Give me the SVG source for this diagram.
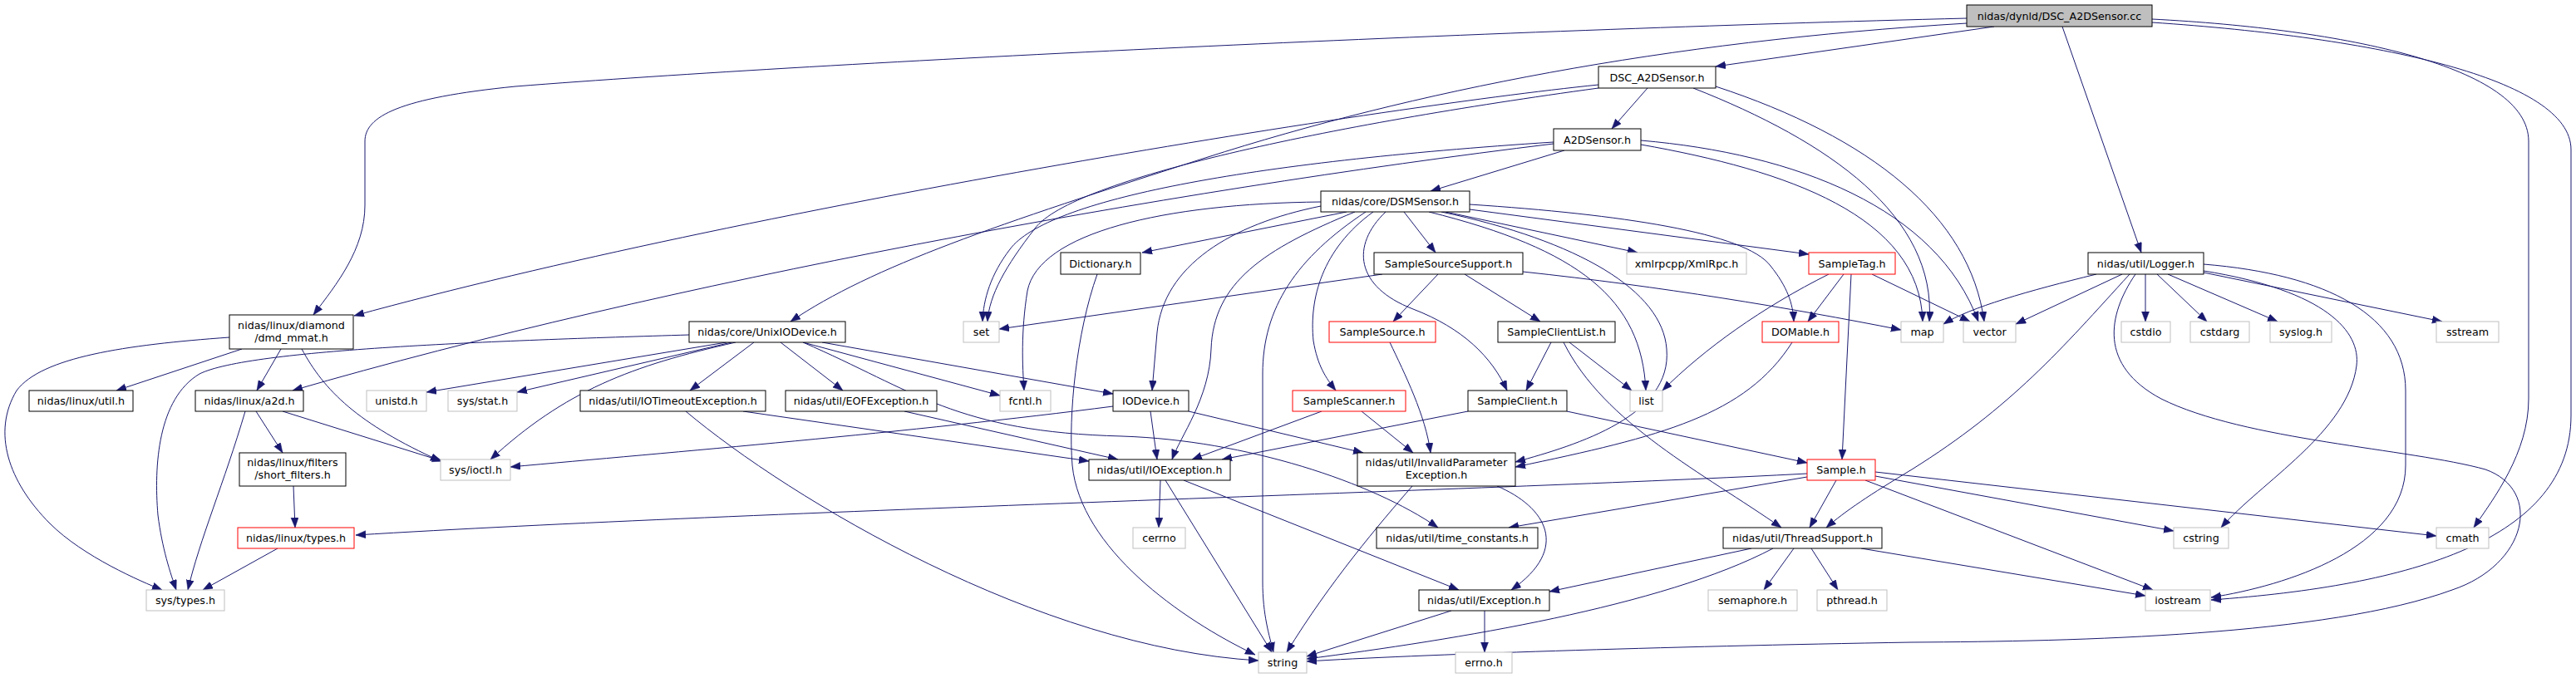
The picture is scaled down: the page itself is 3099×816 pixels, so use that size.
<svg xmlns="http://www.w3.org/2000/svg" width="3099" height="816" viewBox="0 0 3099 816">
<defs>
<style>
rect{fill:#fff;stroke:#000;stroke-width:1}
.g rect{stroke:#bfbfbf}
.r rect{stroke:#ff0000}
.root rect{fill:#bfbfbf}
text{font-family:"DejaVu Sans","Liberation Sans",sans-serif;font-size:12.7px;text-anchor:middle;fill:#000}
#edges path{fill:none;stroke:#191970;stroke-width:1;marker-end:url(#arr)}
</style>
<marker id="arr" markerWidth="13" markerHeight="10" refX="12" refY="4.5" orient="auto" markerUnits="userSpaceOnUse"><path d="M0,0 L12,4.5 L0,9 z" fill="#191970" stroke="#191970" stroke-width="0.5"/></marker>
</defs>
<rect x="0" y="0" width="3099" height="816" style="fill:#fff;stroke:none"/>
<g id="edges">
<path d="M2399,32 L2064,80"/>
<path d="M2481,32 L2576,304"/>
<path d="M2366,22 C1800,36 1000,74 620,104 C480,118 439,140 439,170 L439,247 C439,300 405,342 377,379"/>
<path d="M2366,28 C2000,50 1700,110 1450,190 C1200,270 1050,320 951,387"/>
<path d="M2589,23 C2820,35 3042,80 3042,170 L3042,480 C3042,545 3000,600 2976,635"/>
<path d="M2589,27 C2860,45 3093,95 3093,180 L3093,500 C3093,650 2900,705 2660,722"/>
<path d="M1982,106 L1939,155"/>
<path d="M1923,102 C1650,130 900,250 426,380"/>
<path d="M1923,106 C1600,150 1290,215 1245,275 C1210,320 1190,355 1188,387"/>
<path d="M2037,106 C2200,170 2330,260 2321,387"/>
<path d="M2064,104 C2250,165 2370,260 2387,387"/>
<path d="M1882,181 L1721,230"/>
<path d="M1869,173 C1400,230 800,340 352,470"/>
<path d="M1869,171 C1500,195 1260,240 1215,300 C1192,330 1183,360 1182,387"/>
<path d="M1974,174 C2150,205 2310,260 2313,387"/>
<path d="M1974,169 C2160,185 2330,250 2380,387"/>
<path d="M1689,255 L1727,304"/>
<path d="M1739,255 L1970,304"/>
<path d="M1768,252 L2176,306"/>
<path d="M1768,246 C1950,258 2100,280 2130,320 C2150,345 2157,365 2158,387"/>
<path d="M1719,255 C1900,300 1975,360 1980,470"/>
<path d="M1734,255 C1900,290 2000,350 2005,420 C2012,500 1900,535 1823,556"/>
<path d="M1667,255 C1625,295 1630,345 1700,372 C1760,395 1795,430 1813,470"/>
<path d="M1652,255 C1590,300 1575,360 1580,410 C1585,440 1595,455 1607,470"/>
<path d="M1643,255 C1560,310 1519,370 1519,450 L1519,700 C1519,740 1527,765 1532,785"/>
<path d="M1620,255 L1374,304"/>
<path d="M1589,243 C1400,245 1250,280 1236,350 C1228,400 1230,440 1232,470"/>
<path d="M1589,248 C1480,270 1400,320 1392,400 L1386,470"/>
<path d="M1630,255 C1520,300 1460,340 1457,420 C1455,480 1420,525 1410,553"/>
<path d="M1320,330 C1295,400 1285,500 1290,560 C1300,660 1420,745 1510,788"/>
<path d="M1663,330 L1202,396"/>
<path d="M1832,327 C2000,345 2150,370 2287,397"/>
<path d="M1730,330 L1676,387"/>
<path d="M1762,330 L1853,387"/>
<path d="M2200,330 C2120,370 2050,420 2000,470"/>
<path d="M2218,330 L2175,387"/>
<path d="M2227,330 L2216,553"/>
<path d="M2252,330 L2370,387"/>
<path d="M1672,412 C1690,450 1715,500 1721,545"/>
<path d="M1866,412 L1836,470"/>
<path d="M1881,412 C1930,510 2050,570 2143,635"/>
<path d="M1888,412 L1963,470"/>
<path d="M2156,412 C2100,500 2000,525 1823,562"/>
<path d="M1766,495 L1470,553"/>
<path d="M1885,495 L2174,557"/>
<path d="M1590,495 L1434,553"/>
<path d="M1638,495 L1700,545"/>
<path d="M1339,489 C1100,520 800,545 614,562"/>
<path d="M1384,495 L1392,553"/>
<path d="M1430,495 L1640,545"/>
<path d="M894,495 L1310,555"/>
<path d="M825,495 C950,600 1250,780 1514,795"/>
<path d="M1088,495 L1345,553"/>
<path d="M907,412 L830,470"/>
<path d="M939,412 L1014,470"/>
<path d="M966,412 L1203,476"/>
<path d="M989,412 L1339,474"/>
<path d="M966,412 C1100,470 1150,520 1350,525 C1500,530 1650,580 1730,635"/>
<path d="M874,412 L513,472"/>
<path d="M880,412 L622,472"/>
<path d="M885,412 C760,440 680,470 590,553"/>
<path d="M829,403 C600,410 300,420 240,450 C190,480 185,560 190,620 C195,660 205,690 212,710"/>
<path d="M276,406 C150,415 50,430 20,470 C-10,520 10,580 60,630 C100,670 170,700 195,710"/>
<path d="M291,420 L140,470"/>
<path d="M338,420 L309,470"/>
<path d="M363,420 C390,470 430,510 530,555"/>
<path d="M295,495 C270,580 240,650 226,710"/>
<path d="M308,495 L340,545"/>
<path d="M340,495 L532,555"/>
<path d="M353,585 L355,635"/>
<path d="M334,660 L244,710"/>
<path d="M1396,578 L1394,635"/>
<path d="M1402,578 L1530,785"/>
<path d="M1424,578 L1755,710"/>
<path d="M1699,585 C1660,630 1600,700 1548,785"/>
<path d="M1801,585 C1860,610 1890,660 1818,710"/>
<path d="M2174,570 C1800,590 900,615 428,644"/>
<path d="M2174,574 L1815,635"/>
<path d="M2209,578 L2177,635"/>
<path d="M2256,573 L2615,639"/>
<path d="M2256,568 L2931,645"/>
<path d="M2244,578 L2590,710"/>
<path d="M2107,660 L1864,712"/>
<path d="M2133,660 C2000,730 1750,770 1572,793"/>
<path d="M2158,660 L2122,710"/>
<path d="M2179,660 L2211,710"/>
<path d="M2239,660 L2581,717"/>
<path d="M1746,735 L1572,790"/>
<path d="M1786,735 L1786,785"/>
<path d="M2522,330 C2440,350 2370,370 2338,390"/>
<path d="M2553,330 L2425,390"/>
<path d="M2562,330 C2480,420 2420,490 2300,565 C2250,595 2220,615 2197,635"/>
<path d="M2569,330 C2535,380 2525,440 2600,480 C2700,530 2900,540 2990,565 C3060,590 3040,680 2950,710 C2800,765 2500,772 2300,773 C2000,778 1700,788 1572,796"/>
<path d="M2581,330 L2581,387"/>
<path d="M2595,330 L2655,387"/>
<path d="M2608,330 L2740,387"/>
<path d="M2651,328 L2938,387"/>
<path d="M2651,326 C2800,350 2840,400 2835,440 C2825,520 2720,580 2672,635"/>
<path d="M2651,318 C2800,330 2894,380 2894,470 L2894,560 C2894,660 2750,705 2660,719"/>
</g>
<g id="n_root" class="root"><rect x="2366" y="6" width="223" height="26"/><text x="2477.5" y="23.5">nidas/dynld/DSC_A2DSensor.cc</text></g>
<g id="n_dsc_h"><rect x="1923" y="80" width="141" height="26"/><text x="1993.5" y="97.5">DSC_A2DSensor.h</text></g>
<g id="n_a2dsensor"><rect x="1869" y="155" width="105" height="26"/><text x="1921.5" y="172.5">A2DSensor.h</text></g>
<g id="n_dsmsensor"><rect x="1589" y="230" width="179" height="25"/><text x="1678.5" y="247">nidas/core/DSMSensor.h</text></g>
<g id="n_dictionary"><rect x="1276" y="304" width="96" height="26"/><text x="1324" y="321.5">Dictionary.h</text></g>
<g id="n_sss"><rect x="1653" y="304" width="179" height="26"/><text x="1742.5" y="321.5">SampleSourceSupport.h</text></g>
<g id="n_xmlrpc" class="g"><rect x="1957" y="304" width="144" height="26"/><text x="2029" y="321.5">xmlrpcpp/XmlRpc.h</text></g>
<g id="n_sampletag" class="r"><rect x="2176" y="304" width="104" height="26"/><text x="2228" y="321.5">SampleTag.h</text></g>
<g id="n_logger"><rect x="2512" y="304" width="139" height="26"/><text x="2581.5" y="321.5">nidas/util/Logger.h</text></g>
<g id="n_dmd"><rect x="276" y="379" width="149" height="41"/><text x="350.5" y="396">nidas/linux/diamond</text><text x="350.5" y="411">/dmd_mmat.h</text></g>
<g id="n_unixio"><rect x="829" y="387" width="188" height="25"/><text x="923" y="404">nidas/core/UnixIODevice.h</text></g>
<g id="n_set" class="g"><rect x="1159" y="387" width="43" height="25"/><text x="1180.5" y="404">set</text></g>
<g id="n_samplesource" class="r"><rect x="1599" y="387" width="128" height="25"/><text x="1663" y="404">SampleSource.h</text></g>
<g id="n_scl"><rect x="1802" y="387" width="141" height="25"/><text x="1872.5" y="404">SampleClientList.h</text></g>
<g id="n_domable" class="r"><rect x="2120" y="387" width="92" height="25"/><text x="2166" y="404">DOMable.h</text></g>
<g id="n_map" class="g"><rect x="2287" y="387" width="51" height="25"/><text x="2312.5" y="404">map</text></g>
<g id="n_vector" class="g"><rect x="2362" y="387" width="63" height="25"/><text x="2393.5" y="404">vector</text></g>
<g id="n_cstdio" class="g"><rect x="2552" y="387" width="59" height="25"/><text x="2581.5" y="404">cstdio</text></g>
<g id="n_cstdarg" class="g"><rect x="2635" y="387" width="71" height="25"/><text x="2670.5" y="404">cstdarg</text></g>
<g id="n_syslog" class="g"><rect x="2731" y="387" width="74" height="25"/><text x="2768" y="404">syslog.h</text></g>
<g id="n_sstream" class="g"><rect x="2931" y="387" width="75" height="25"/><text x="2968.5" y="404">sstream</text></g>
<g id="n_linuxutil"><rect x="35" y="470" width="125" height="25"/><text x="97.5" y="487">nidas/linux/util.h</text></g>
<g id="n_a2d"><rect x="235" y="470" width="130" height="25"/><text x="300" y="487">nidas/linux/a2d.h</text></g>
<g id="n_unistd" class="g"><rect x="441" y="470" width="72" height="25"/><text x="477" y="487">unistd.h</text></g>
<g id="n_sysstat" class="g"><rect x="539" y="470" width="83" height="25"/><text x="580.5" y="487">sys/stat.h</text></g>
<g id="n_iotimeout"><rect x="698" y="470" width="223" height="25"/><text x="809.5" y="487">nidas/util/IOTimeoutException.h</text></g>
<g id="n_eof"><rect x="945" y="470" width="182" height="25"/><text x="1036" y="487">nidas/util/EOFException.h</text></g>
<g id="n_fcntl" class="g"><rect x="1203" y="470" width="61" height="25"/><text x="1233.5" y="487">fcntl.h</text></g>
<g id="n_iodevice"><rect x="1339" y="470" width="91" height="25"/><text x="1384.5" y="487">IODevice.h</text></g>
<g id="n_scanner" class="r"><rect x="1555" y="470" width="136" height="25"/><text x="1623" y="487">SampleScanner.h</text></g>
<g id="n_sampleclient"><rect x="1766" y="470" width="119" height="25"/><text x="1825.5" y="487">SampleClient.h</text></g>
<g id="n_list" class="g"><rect x="1961" y="470" width="39" height="25"/><text x="1980.5" y="487">list</text></g>
<g id="n_shortfilters"><rect x="288" y="545" width="128" height="40"/><text x="352" y="561">nidas/linux/filters</text><text x="352" y="576">/short_filters.h</text></g>
<g id="n_ioctl" class="g"><rect x="530" y="553" width="84" height="25"/><text x="572" y="570">sys/ioctl.h</text></g>
<g id="n_ioexception"><rect x="1310" y="553" width="170" height="25"/><text x="1395" y="570">nidas/util/IOException.h</text></g>
<g id="n_invalidparam"><rect x="1633" y="545" width="190" height="40"/><text x="1728" y="561">nidas/util/InvalidParameter</text><text x="1728" y="576">Exception.h</text></g>
<g id="n_sample" class="r"><rect x="2174" y="553" width="82" height="25"/><text x="2215" y="570">Sample.h</text></g>
<g id="n_types" class="r"><rect x="286" y="635" width="140" height="25"/><text x="356" y="652">nidas/linux/types.h</text></g>
<g id="n_cerrno" class="g"><rect x="1363" y="635" width="63" height="25"/><text x="1394.5" y="652">cerrno</text></g>
<g id="n_timeconst"><rect x="1656" y="635" width="194" height="25"/><text x="1753" y="652">nidas/util/time_constants.h</text></g>
<g id="n_threadsupport"><rect x="2073" y="635" width="191" height="25"/><text x="2168.5" y="652">nidas/util/ThreadSupport.h</text></g>
<g id="n_cstring" class="g"><rect x="2615" y="635" width="66" height="25"/><text x="2648" y="652">cstring</text></g>
<g id="n_cmath" class="g"><rect x="2931" y="635" width="63" height="25"/><text x="2962.5" y="652">cmath</text></g>
<g id="n_systypes" class="g"><rect x="176" y="710" width="94" height="25"/><text x="223" y="727">sys/types.h</text></g>
<g id="n_exception"><rect x="1707" y="710" width="157" height="25"/><text x="1785.5" y="727">nidas/util/Exception.h</text></g>
<g id="n_semaphore" class="g"><rect x="2055" y="710" width="107" height="25"/><text x="2108.5" y="727">semaphore.h</text></g>
<g id="n_pthread" class="g"><rect x="2186" y="710" width="84" height="25"/><text x="2228" y="727">pthread.h</text></g>
<g id="n_iostream" class="g"><rect x="2581" y="710" width="78" height="25"/><text x="2620" y="727">iostream</text></g>
<g id="n_string" class="g"><rect x="1514" y="785" width="58" height="25"/><text x="1543" y="802">string</text></g>
<g id="n_errno" class="g"><rect x="1751" y="785" width="68" height="25"/><text x="1785" y="802">errno.h</text></g>
</svg>
